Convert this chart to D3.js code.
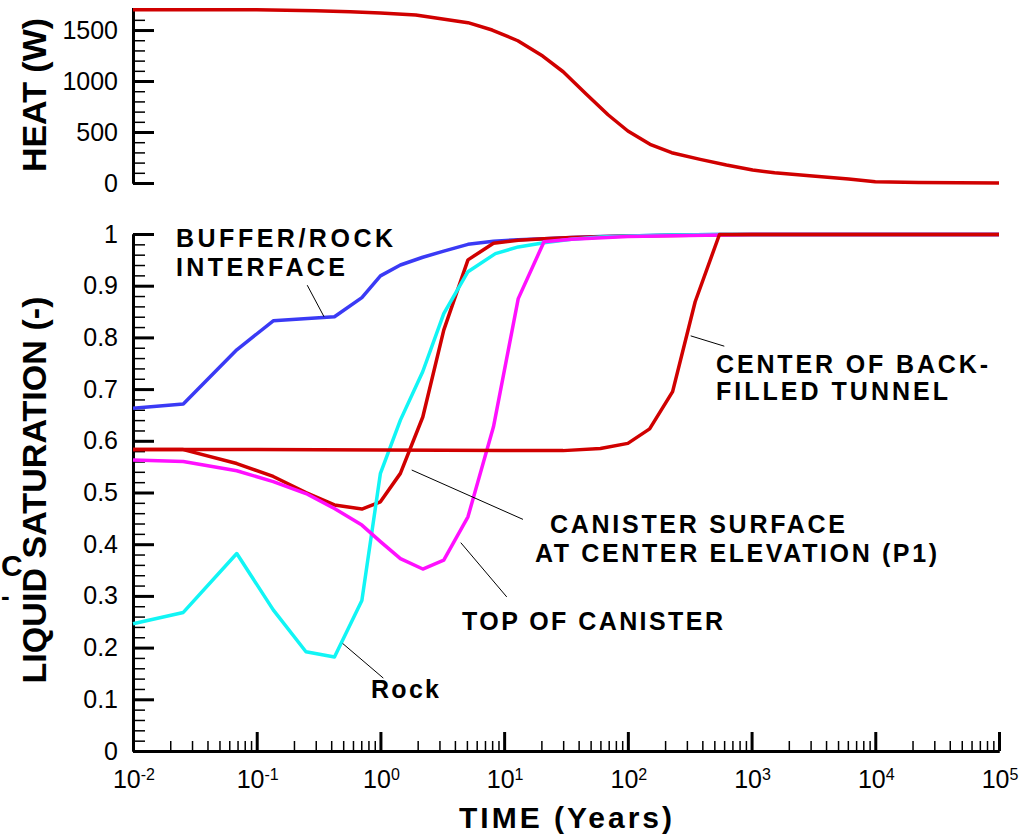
<!DOCTYPE html>
<html>
<head>
<meta charset="utf-8">
<script src="https://cdn.jsdelivr.net/npm/d3@7"></script>
<style>
  html, body { margin: 0; padding: 0; background: #ffffff; }
  svg { display: block; }
  text { font-family: "Liberation Sans", Arial, Helvetica, sans-serif; fill: #000; }
</style>
</head>
<body>
<svg id="chart" width="1035" height="836"></svg>
<script>
// ---- Canister heat output (W) versus time (years) ----
const heatTime  = [0.01, 0.1, 0.3, 0.57, 1, 1.93, 5.1, 8, 12.9, 20.5, 30, 46, 69.5, 100, 151, 226, 384, 626, 1020, 1535, 2945, 6090, 10000, 22400, 100000];
const heatWatts = [1700, 1698, 1690, 1680, 1668, 1647, 1572, 1500, 1395, 1245, 1091, 873, 667, 510, 379, 297, 232, 176, 127, 101, 72, 39, 13, 5, 0];

// ---- Liquid saturation (-) versus time (years) ----
const bufferRockTime = [0.01, 0.0255, 0.069, 0.136, 0.425, 0.708, 1.0, 1.45, 2.2, 3.25, 5.1, 8.2, 13, 21, 35, 60, 100, 230, 550, 1000, 10000, 100000];
const bufferRockSat  = [0.663, 0.671, 0.776, 0.832, 0.840, 0.877, 0.919, 0.940, 0.955, 0.967, 0.980, 0.986, 0.989, 0.991, 0.993, 0.995, 0.996, 0.998, 0.999, 0.999, 0.999, 0.999];

const rockTime = [0.01, 0.0255, 0.069, 0.136, 0.25, 0.425, 0.708, 1.0, 1.45, 2.2, 3.25, 5.1, 8.5, 13, 21, 35, 60, 100, 230, 550, 1000, 10000, 100000];
const rockSat  = [0.246, 0.268, 0.382, 0.273, 0.192, 0.182, 0.291, 0.537, 0.640, 0.734, 0.846, 0.927, 0.962, 0.975, 0.983, 0.990, 0.994, 0.996, 0.998, 0.999, 0.999, 0.999, 0.999];

const canisterP1Time = [0.01, 0.0255, 0.069, 0.136, 0.25, 0.425, 0.708, 1.0, 1.45, 2.2, 3.25, 5.1, 8.2, 13, 21, 35, 100, 1000, 100000];
const canisterP1Sat  = [0.583, 0.583, 0.556, 0.531, 0.500, 0.476, 0.468, 0.482, 0.537, 0.646, 0.814, 0.950, 0.982, 0.988, 0.991, 0.993, 0.996, 0.999, 0.999];

const canisterTopTime = [0.01, 0.0255, 0.069, 0.136, 0.25, 0.425, 0.708, 1.0, 1.45, 2.2, 3.25, 5.1, 8.2, 13, 21, 35, 100, 1000, 100000];
const canisterTopSat  = [0.563, 0.560, 0.542, 0.521, 0.498, 0.469, 0.437, 0.405, 0.372, 0.352, 0.369, 0.453, 0.627, 0.875, 0.985, 0.990, 0.995, 0.999, 0.999];

const tunnelTime = [0.01, 0.0255, 0.1, 1, 10, 30, 60, 100, 150, 230, 350, 550, 1000, 10000, 100000];
const tunnelSat  = [0.583, 0.583, 0.583, 0.582, 0.581, 0.581, 0.585, 0.595, 0.623, 0.695, 0.869, 0.999, 0.999, 0.999, 0.999];

// ---- Axis ticks ----
const timeDecades   = [-2, -1, 0, 1, 2, 3, 4, 5];
const heatTicks     = [0, 500, 1000, 1500];
const heatMinor     = [100, 200, 300, 400, 600, 700, 800, 900, 1100, 1200, 1300, 1400, 1600, 1700];
const satTicks      = [0, 0.1, 0.2, 0.3, 0.4, 0.5, 0.6, 0.7, 0.8, 0.9, 1];
const satTickLabels = ["0", "0.1", "0.2", "0.3", "0.4", "0.5", "0.6", "0.7", "0.8", "0.9", "1"];

// ---- Curve annotations: leader runs from label point [time, value] to curve point [time, value] ----
const annotations = [
  { lines: ["BUFFER/ROCK", "INTERFACE"], x: 176, y: [247, 276], len: [217, 169], from: [0.256, 0.901], to: [0.350, 0.840] },
  { lines: ["CENTER OF BACK-", "FILLED TUNNEL"], x: 716, y: [373, 400], len: [272, 232], from: [602, 0.783], to: [322, 0.803] },
  { lines: ["CANISTER SURFACE"], x: 550, y: [533], len: [295], from: [14.2, 0.448], to: [1.79, 0.5435] },
  { lines: ["AT CENTER ELEVATION (P1)"], x: 535, y: [562], len: [402], from: null, to: null },
  { lines: ["TOP OF CANISTER"], x: 462, y: [630], len: [261], from: [10.5, 0.298], to: [4.46, 0.403] },
  { lines: ["Rock"], x: 371, y: [698], len: [68], from: [1.055, 0.141], to: [0.495, 0.208] }
];

const svg = d3.select("#chart");

const x = d3.scaleLog().domain([1e-2, 1e5]).range([133, 999]);
const yHeat = d3.scaleLinear().domain([0, 1720]).range([183, 7.6]);
const ySat = d3.scaleLinear().domain([0, 1]).range([751, 234]);

function styleAxis(g, width) {
  g.selectAll(".domain").attr("stroke", "#000").attr("stroke-width", 3);
  g.selectAll(".tick line").attr("stroke", "#000").attr("stroke-width", width);
  g.attr("font-family", null).attr("font-size", null);
}

// ---- Heat panel, left axis ----
const gHeatMinor = svg.append("g").attr("transform", "translate(133,0)")
  .call(d3.axisLeft(yHeat).tickValues(heatMinor).tickSize(-12).tickSizeOuter(0).tickFormat(""));
styleAxis(gHeatMinor, 1.5);

const gHeat = svg.append("g").attr("transform", "translate(133,0)")
  .call(d3.axisLeft(yHeat).tickValues(heatTicks).tickSize(-21).tickSizeOuter(0).tickPadding(15).tickFormat(d3.format("d")));
styleAxis(gHeat, 3);
gHeat.selectAll(".tick text").attr("font-size", 25).attr("fill", "#000");

// ---- Saturation panel, left axis ----
const gSatMinor = svg.append("g").attr("transform", "translate(133,0)")
  .call(d3.axisLeft(ySat).tickValues(d3.range(0, 51).map(i => i / 50)).tickSize(-12).tickSizeOuter(0).tickFormat(""));
styleAxis(gSatMinor, 1.5);

const gSat = svg.append("g").attr("transform", "translate(133,0)")
  .call(d3.axisLeft(ySat).tickValues(satTicks).tickSize(-21).tickSizeOuter(0).tickPadding(15)
    .tickFormat((d, i) => satTickLabels[i]));
styleAxis(gSat, 3);
gSat.selectAll(".tick text").attr("font-size", 25).attr("fill", "#000");

// ---- Time axis (log) ----
const minorTimes = [];
timeDecades.slice(0, -1).forEach(d => { for (let m = 2; m <= 9; m++) minorTimes.push(m * Math.pow(10, d)); });
const majorTimes = timeDecades.map(d => Math.pow(10, d));

const gTimeMinor = svg.append("g").attr("transform", "translate(0,751)")
  .call(d3.axisBottom(x).tickValues(minorTimes).tickSize(-10).tickSizeOuter(0).tickFormat(""));
styleAxis(gTimeMinor, 1.5);

const gTime = svg.append("g").attr("transform", "translate(0,751)")
  .call(d3.axisBottom(x).tickValues(majorTimes).tickSize(-19).tickSizeOuter(0).tickFormat(""));
styleAxis(gTime, 3);

// power-of-ten labels with superscript exponents
const timeLabels = svg.append("g");
timeDecades.forEach(d => {
  const t = timeLabels.append("text")
    .attr("x", x(Math.pow(10, d)) + 1)
    .attr("y", 788)
    .attr("text-anchor", "middle")
    .attr("font-size", 25);
  t.append("tspan").text("10");
  t.append("tspan").attr("dy", -8).attr("font-size", 16).text(String(d));
});

// ---- Axis titles ----
svg.append("text")
  .attr("transform", "translate(46,95) rotate(-90)")
  .attr("text-anchor", "middle")
  .attr("font-size", 34).attr("font-weight", "bold")
  .text("HEAT (W)");

svg.append("text")
  .attr("transform", "translate(46,490) rotate(-90)")
  .attr("text-anchor", "middle")
  .attr("font-size", 34).attr("font-weight", "bold")
  .attr("textLength", 387).attr("lengthAdjust", "spacing")
  .text("LIQUID SATURATION (-)");

// stray glyphs left of the saturation title
svg.append("text").attr("x", 1).attr("y", 576).attr("font-size", 30).attr("font-weight", "bold").text("C");
svg.append("text").attr("x", 1).attr("y", 605).attr("font-size", 26).attr("font-weight", "bold").text("-");

svg.append("text")
  .attr("x", 459).attr("y", 828)
  .attr("font-size", 30).attr("font-weight", "bold")
  .attr("textLength", 213).attr("lengthAdjust", "spacing")
  .text("TIME (Years)");

// ---- Curves ----
const heatLine = d3.line().x(d => x(d[0])).y(d => yHeat(d[1]));
const satLine = d3.line().x(d => x(d[0])).y(d => ySat(d[1]));

svg.append("path")
  .datum(d3.zip(heatTime, heatWatts))
  .attr("d", heatLine)
  .attr("fill", "none").attr("stroke", "#d00000").attr("stroke-width", 3.5)
  .attr("stroke-linejoin", "round");

const series = [
  { t: bufferRockTime, s: bufferRockSat, color: "#3a3af5" },
  { t: canisterP1Time, s: canisterP1Sat, color: "#d00000" },
  { t: rockTime, s: rockSat, color: "#11f5f5" },
  { t: canisterTopTime, s: canisterTopSat, color: "#ff10ff" },
  { t: tunnelTime, s: tunnelSat, color: "#d00000" }
];
series.forEach(sr => {
  svg.append("path")
    .datum(d3.zip(sr.t, sr.s))
    .attr("d", satLine)
    .attr("fill", "none").attr("stroke", sr.color).attr("stroke-width", 3.5)
    .attr("stroke-linejoin", "round");
});

// ---- Annotations ----
const gAnn = svg.append("g");
annotations.forEach(a => {
  a.lines.forEach((ln, i) => {
    gAnn.append("text")
      .attr("x", a.x).attr("y", a.y[i])
      .attr("font-size", 25).attr("font-weight", "bold")
      .attr("textLength", a.len[i]).attr("lengthAdjust", "spacing")
      .text(ln);
  });
  if (a.from) {
    gAnn.append("line")
      .attr("x1", x(a.from[0])).attr("y1", ySat(a.from[1]))
      .attr("x2", x(a.to[0])).attr("y2", ySat(a.to[1]))
      .attr("stroke", "#000").attr("stroke-width", 1);
  }
});
</script>
</body>
</html>
